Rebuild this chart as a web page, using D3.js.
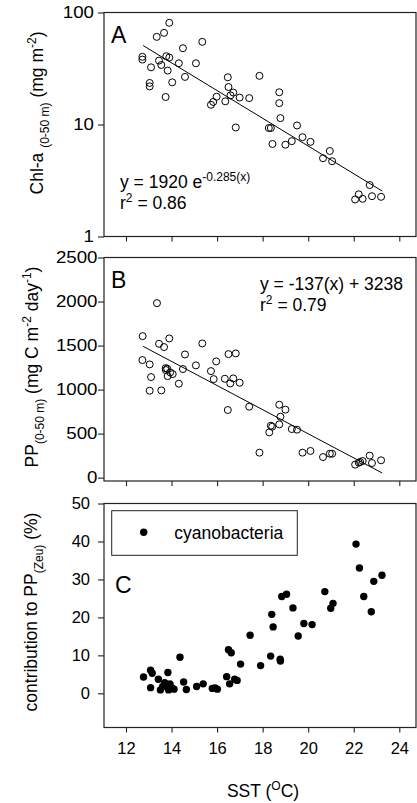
<!DOCTYPE html>
<html><head><meta charset="utf-8">
<script src="https://cdn.jsdelivr.net/npm/d3@7"></script>
<style>
body{margin:0;background:#fff}
svg{display:block}
text{font-family:"Liberation Sans",Arial,Helvetica,sans-serif;fill:#000;white-space:pre}
</style>
</head><body>
<svg id="chart" width="417" height="803"></svg>
<script>
// ---------- DATA ----------
const xTicks = [12, 14, 16, 18, 20, 22, 24];
const yTicksA = [1, 10, 100];
const yTicksB = [0, 500, 1000, 1500, 2000, 2500];
const yTicksC = [0, 10, 20, 30, 40, 50];

// Panel A: SST vs Chl-a (0-50 m)
const sstA = [12.72,12.72,13.10,13.04,13.04,13.35,13.67,13.90,13.45,13.55,13.77,13.90,13.83,13.74,14.03,14.32,14.50,14.59,15.07,15.35,15.73,15.83,15.98,16.36,16.47,16.50,16.59,16.71,16.82,16.99,17.41,17.86,18.27,18.36,18.43,18.73,18.73,18.78,19.00,19.28,19.51,19.75,20.10,20.65,20.95,21.05,22.06,22.22,22.39,22.70,22.80,23.20];
const chlA = [40.2,38.0,32.4,23.5,21.9,60.6,65.8,80.9,37.2,34.0,40.7,39.6,30.3,17.6,23.8,35.2,48.0,26.6,35.2,54.7,15.0,15.9,17.7,16.1,26.4,21.6,18.2,19.3,9.4,17.4,17.2,27.2,9.3,9.3,6.7,19.4,15.5,11.4,6.6,7.1,9.8,7.7,7.0,5.0,5.8,4.7,2.14,2.38,2.17,2.88,2.29,2.26];
const fitA = {a: 1920, b: -0.285, from: 12.75, to: 23.25};

// Panel B: SST vs PP (0-50 m)
const sstB = [12.73,12.72,13.04,13.10,13.04,13.36,13.45,13.67,13.90,13.55,13.74,13.81,13.75,13.83,13.94,14.05,14.32,14.50,14.59,15.07,15.35,15.73,15.85,15.96,16.34,16.47,16.50,16.58,16.71,16.82,16.99,17.41,17.86,18.29,18.36,18.42,18.73,18.73,18.78,19.00,19.28,19.51,19.75,20.10,20.65,20.95,21.05,22.06,22.22,22.28,22.39,22.70,22.80,23.20];
const ppB = [1607,1335,1286,1142,987,1982,1520,1483,1581,991,1244,1237,1222,1153,1195,1176,1067,1233,1399,1275,1524,1210,1119,1320,1123,768,1403,1070,1127,1411,1078,806,284,514,590,579,828,605,692,772,552,545,284,303,234,272,272,148,170,178,189,250,166,197];
const fitB = {slope: -137, intercept: 3238, from: 12.75, to: 23.25};

// Panel C: SST vs cyanobacteria contribution to PP(Zeu)
const sstC = [12.77,13.08,13.15,13.08,13.42,13.51,13.61,13.70,13.75,13.84,13.87,13.93,13.97,14.03,14.11,14.37,14.53,14.65,15.10,15.39,15.79,15.91,16.01,16.42,16.50,16.62,16.55,16.77,16.88,17.03,17.45,17.91,18.35,18.40,18.46,18.77,18.78,18.84,19.05,19.33,19.56,19.81,20.17,20.73,20.99,21.09,22.10,22.25,22.44,22.77,22.88,23.24];
const cyanoC = [4.3,6.1,5.3,1.5,3.7,0.9,1.8,2.8,2.1,5.5,0.9,2.5,1.6,1.3,1.1,9.5,3.0,1.0,1.8,2.5,1.3,1.4,1.1,4.4,11.5,10.7,2.5,3.7,3.4,7.7,15.3,7.3,9.8,20.8,17.5,9.0,8.5,25.5,26.1,22.5,15.1,18.4,18.1,26.8,22.4,23.7,39.3,33.0,25.5,21.5,29.5,31.1];

// ---------- LAYOUT ----------
const svg = d3.select("#chart");
const L = 104, R = 416;
const FS = 17.5, TFS = 16.5;
const x = d3.scaleLinear().domain([12, 24]).range([126, 399.3]);

const panels = [
  {y: d3.scaleLog().domain([1, 100]).range([236.5, 12.5]), top: 12.5, bottom: 236.5, ticks: yTicksA, pad: 4, digitW: 10.4},
  {y: d3.scaleLinear().domain([-38, 2500]).range([481, 257.5]), top: 257.5, bottom: 481, ticks: yTicksB, pad: 0.5, digitW: 10.4},
  {y: d3.scaleLinear().domain([-9, 50]).range([727.5, 503.5]), top: 503.5, bottom: 727.5, ticks: yTicksC, pad: 8, digitW: 0}
];

function rich(parent, px, py, parts, size, anchor, rotate) {
  const t = parent.append("text").attr("font-size", size).attr("text-anchor", anchor || "start");
  if (rotate) t.attr("transform", `translate(${px},${py}) rotate(-90)`);
  else t.attr("x", px).attr("y", py);
  let cur = 0;
  parts.forEach(p => {
    const target = p.sub ? size * 0.32 : p.sup ? -size * 0.42 : 0;
    t.append("tspan")
      .attr("dy", target - cur)
      .attr("font-size", (p.sub || p.sup) ? (p.fs || size * 0.68) : size)
      .text(p.t);
    cur = target;
  });
  return t;
}

panels.forEach((P, i) => {
  const g = svg.append("g");
  g.append("rect").attr("x", L).attr("y", P.top).attr("width", R - L).attr("height", P.bottom - P.top)
    .attr("fill", "none").attr("stroke", "#222").attr("stroke-width", 1.2);
  const ya = g.append("g").attr("transform", `translate(${L},0)`)
    .call(d3.axisLeft(P.y).tickValues(P.ticks).tickFormat(d3.format("d")).tickSize(6).tickPadding(P.pad));
  ya.select(".domain").remove();
  ya.selectAll("line").attr("stroke", "#222").attr("stroke-width", 1.1);
  const yt = ya.selectAll("text").attr("font-size", TFS).attr("font-family", null).attr("fill", "#000");
  if (P.digitW) yt.attr("textLength", d => String(d).length * P.digitW).attr("lengthAdjust", "spacingAndGlyphs");
  const xa = g.append("g").attr("transform", `translate(0,${P.bottom})`)
    .call(d3.axisBottom(x).tickValues(xTicks).tickSize(5).tickPadding(10));
  xa.select(".domain").remove();
  xa.selectAll("line").attr("stroke", "#222").attr("stroke-width", 1.1);
  xa.selectAll("text").attr("font-size", TFS).attr("font-family", null).attr("fill", "#000");
  if (i < 2) xa.selectAll("text").remove();
});

const yA = panels[0].y, yB = panels[1].y, yC = panels[2].y;

// Panel A marks
const lineA = d3.line().x(d => x(d)).y(d => yA(fitA.a * Math.exp(fitA.b * d)));
svg.append("path").attr("d", lineA([fitA.from, fitA.to])).attr("stroke", "#000").attr("stroke-width", 1).attr("fill", "none");
svg.append("g").selectAll("circle").data(sstA.map((s, i) => [s, chlA[i]])).join("circle")
  .attr("cx", d => x(d[0])).attr("cy", d => yA(d[1])).attr("r", 3.5)
  .attr("fill", "none").attr("stroke", "#000").attr("stroke-width", 1);

// Panel B marks
const lineB = d3.line().x(d => x(d)).y(d => yB(fitB.slope * d + fitB.intercept));
svg.append("path").attr("d", lineB([fitB.from, fitB.to])).attr("stroke", "#000").attr("stroke-width", 1).attr("fill", "none");
svg.append("g").selectAll("circle").data(sstB.map((s, i) => [s, ppB[i]])).join("circle")
  .attr("cx", d => x(d[0])).attr("cy", d => yB(d[1])).attr("r", 3.5)
  .attr("fill", "none").attr("stroke", "#000").attr("stroke-width", 1);

// Panel C marks
svg.append("g").selectAll("circle").data(sstC.map((s, i) => [s, cyanoC[i]])).join("circle")
  .attr("cx", d => x(d[0])).attr("cy", d => yC(d[1])).attr("r", 3.7)
  .attr("fill", "#000");

// Legend C
svg.append("rect").attr("x", 111.7).attr("y", 510.7).attr("width", 185.6).attr("height", 44.6)
  .attr("fill", "#fff").attr("stroke", "#222").attr("stroke-width", 1);
svg.append("circle").attr("cx", 143.7).attr("cy", 532.3).attr("r", 3.7).attr("fill", "#000");
svg.append("text").attr("x", 174.3).attr("y", 538.5).attr("font-size", FS).text("cyanobacteria");

// Panel letters
svg.append("text").attr("x", 111).attr("y", 43).attr("font-size", 23).text("A");
svg.append("text").attr("x", 111).attr("y", 288).attr("font-size", 23).text("B");
svg.append("text").attr("x", 115).attr("y", 593).attr("font-size", 23).text("C");

// Equations
rich(svg, 120, 188, [{t: "y = 1920 e"}, {t: "-0.285(x)", sup: true, fs: 12}], FS);
rich(svg, 120, 209, [{t: "r"}, {t: "2", sup: true, fs: 12}, {t: " = 0.86"}], FS);
rich(svg, 260, 290, [{t: "y = -137(x) + 3238"}], FS);
rich(svg, 260, 311, [{t: "r"}, {t: "2", sup: true, fs: 12}, {t: " = 0.79"}], FS);

// Axis titles
rich(svg, 43, 113, [{t: "Chl-a "}, {t: "(0-50 m)", sub: true, fs: 12}, {t: " (mg m"}, {t: "-2", sup: true, fs: 12}, {t: ")"}], FS, "middle", true);
rich(svg, 38, 367, [{t: "PP"}, {t: "(0-50 m)", sub: true, fs: 12}, {t: " (mg C m"}, {t: "-2", sup: true, fs: 12}, {t: " day"}, {t: "-1", sup: true, fs: 12}, {t: ")"}], FS, "middle", true);
rich(svg, 37, 612, [{t: "contribution to PP"}, {t: "(Zeu)", sub: true, fs: 12}, {t: " (%)"}], FS, "middle", true);
rich(svg, 263, 797, [{t: "SST ("}, {t: "O", sup: true, fs: 12}, {t: "C)"}], FS, "middle");
</script>
</body></html>
